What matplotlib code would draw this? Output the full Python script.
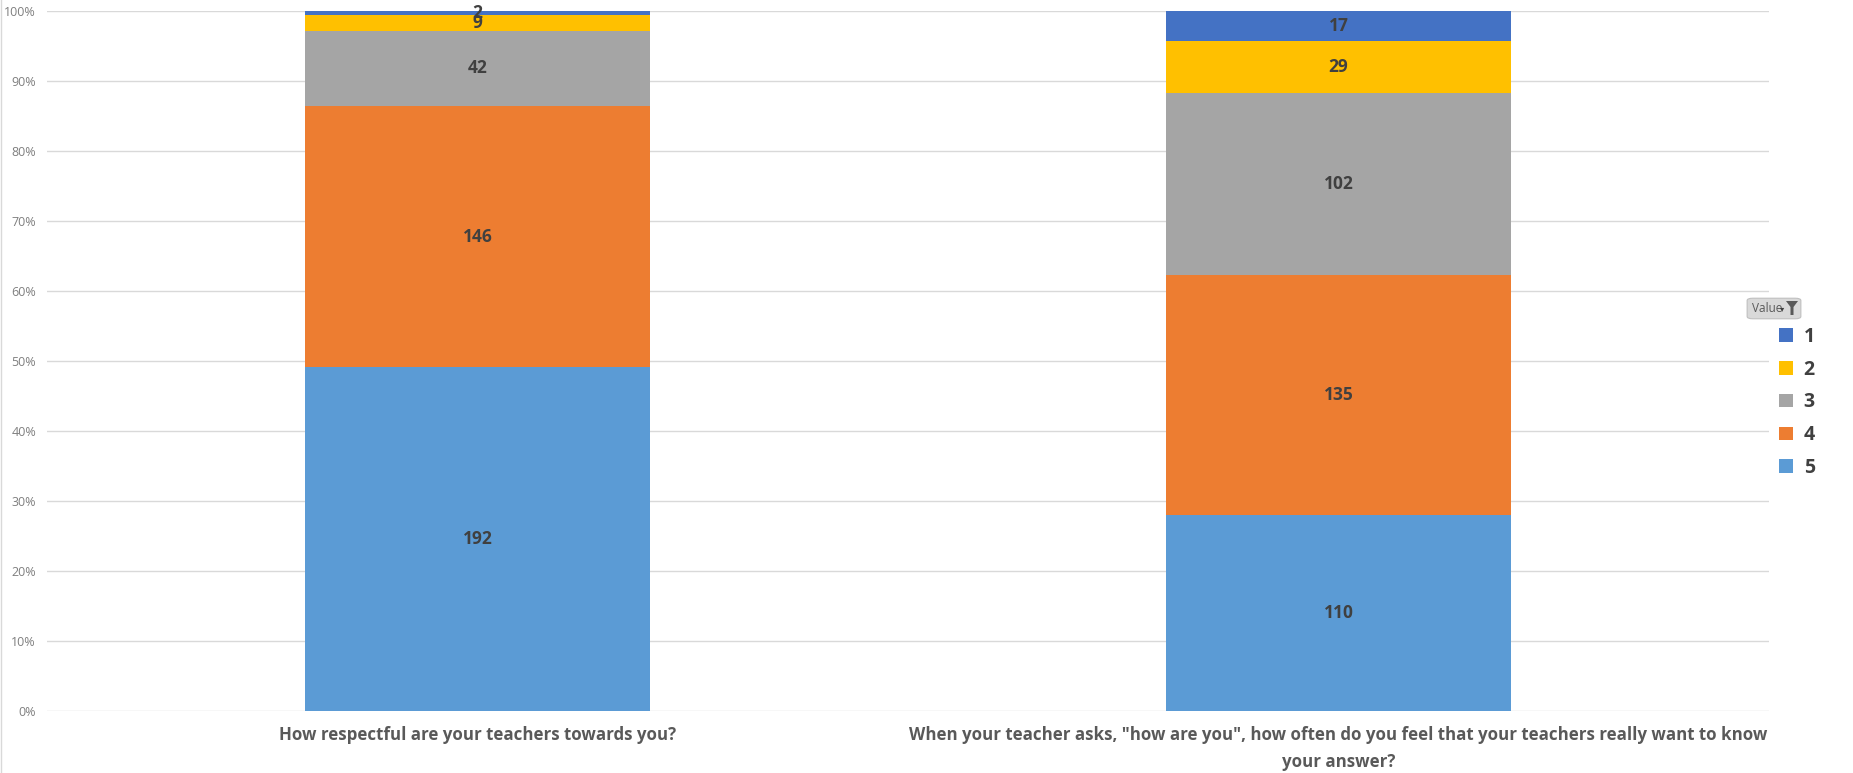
import matplotlib
matplotlib.use("Agg")
import matplotlib.pyplot as plt
from matplotlib.patches import Patch, FancyBboxPatch, Polygon
import numpy as np

categories = ["How respectful are your teachers towards you?",
              "When your teacher asks, \"how are you\", how often do you feel that your teachers really want to know\nyour answer?"]
series_names = ["5", "4", "3", "2", "1"]
counts = {
    "5": [192, 110],
    "4": [146, 135],
    "3": [42, 102],
    "2": [9, 29],
    "1": [2, 17],
}
colors = {"1": "#4472C4", "2": "#FFC000", "3": "#A5A5A5", "4": "#ED7D31", "5": "#5B9BD5"}
yticks = [0, 10, 20, 30, 40, 50, 60, 70, 80, 90, 100]

plt.rcParams['font.family'] = ['Open Sans', 'DejaVu Sans']

fig = plt.figure(figsize=(18.53, 7.73), dpi=100)
ax = fig.add_axes([0.0254, 0.0802, 0.9293, 0.9056])

totals = np.sum([counts[s] for s in series_names], axis=0)
x = np.arange(len(categories))
bottom = np.zeros(len(categories))
for s in series_names:
    vals = np.array(counts[s], dtype=float)
    pct = vals / totals * 100
    ax.bar(x, pct, 0.4, bottom=bottom, color=colors[s], zorder=3)
    for xi, b, p, v in zip(x, bottom, pct, vals):
        ax.text(xi, b + p / 2, f"{int(v)}", ha='center', va='center',
                fontsize=12.5, fontweight='bold', color='#404040', zorder=4)
    bottom += pct

ax.set_xlim(-0.5, 1.5)
ax.set_ylim(0, 100)
ax.set_yticks(yticks)
ax.set_yticklabels([f"{t}%" for t in yticks], fontsize=9, color='#7f7f7f')
ax.yaxis.grid(True, color='#d9d9d9', linewidth=1, zorder=0)
ax.tick_params(axis='y', length=0, pad=8)
ax.tick_params(axis='x', length=0, pad=11)
ax.set_xticks(x)
ax.set_xticklabels(categories, fontsize=12.2, fontweight='bold', color='#595959',
                   linespacing=1.65)
for sp in ax.spines.values():
    sp.set_visible(False)

# legend
handles = [Patch(facecolor=colors[s]) for s in ["1", "2", "3", "4", "5"]]
leg = fig.legend(handles, ["1", "2", "3", "4", "5"], loc='upper left',
                 bbox_to_anchor=(0.9508, 0.6), frameon=False,
                 handlelength=0.7, handleheight=0.7, handletextpad=0.55,
                 labelspacing=0.66, prop={'size': 14, 'weight': 'bold'})
for t in leg.get_texts():
    t.set_color('#404040')

# "Value" filter button
btn = FancyBboxPatch((1749 / 1853, 1 - 318 / 773), 50 / 1853, 19 / 773,
                     boxstyle="round,pad=0.001,rounding_size=0.003",
                     transform=fig.transFigure, facecolor='#d9d9d9', edgecolor='#bfbfbf',
                     linewidth=0.8)
fig.patches.append(btn)
fig.text(1752 / 1853, 1 - 308 / 773, "Value", fontsize=8.5, color='#595959',
         va='center', ha='left')
fig.text(1782 / 1853, 1 - 309 / 773, "\u25be", fontsize=6, color='#404040',
         va='center', ha='center', family=['DejaVu Sans'])
funnel = Polygon([(1786 / 1853, 1 - 301 / 773), (1798 / 1853, 1 - 301 / 773),
                  (1793.5 / 1853, 1 - 307 / 773), (1793.5 / 1853, 1 - 315 / 773),
                  (1790.5 / 1853, 1 - 315 / 773), (1790.5 / 1853, 1 - 307 / 773)],
                 closed=True, transform=fig.transFigure, facecolor='#595959', edgecolor='none')
fig.patches.append(funnel)

# left border line
fig.add_artist(plt.Line2D([0.0008, 0.0008], [0, 1], transform=fig.transFigure,
                          color='#d9d9d9', linewidth=1))

fig.savefig("out.png", dpi=100)
